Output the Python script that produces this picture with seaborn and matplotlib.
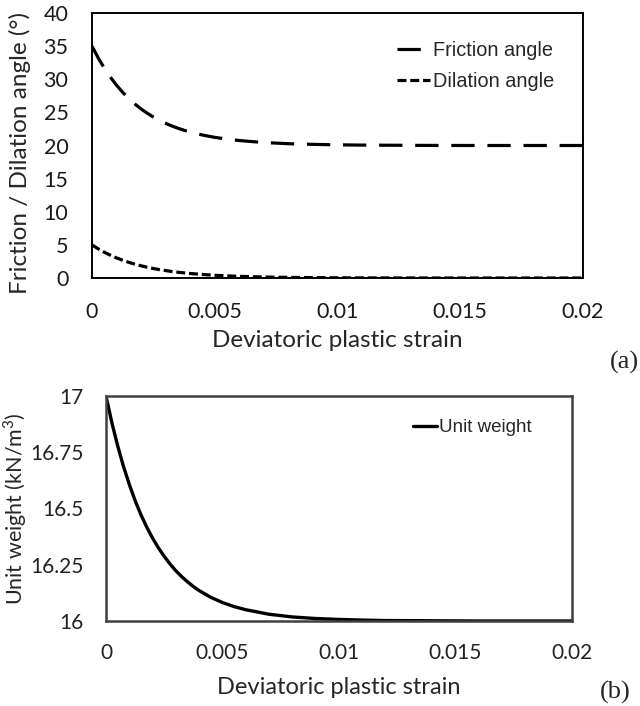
import numpy as np
import pandas as pd
import matplotlib
matplotlib.use("Agg")
import matplotlib.pyplot as plt
import seaborn as sns
from matplotlib.lines import Line2D

# ---------------- data ----------------
strain = [0, 0.00025, 0.0005, 0.00075, 0.001, 0.00125, 0.0015, 0.00175, 0.002,
          0.00225, 0.0025, 0.00275, 0.003, 0.00325, 0.0035, 0.00375, 0.004,
          0.0045, 0.005, 0.0055, 0.006, 0.007, 0.008, 0.009, 0.010, 0.011,
          0.012, 0.014, 0.016, 0.018, 0.020]
friction = [35.0, 33.24, 31.68, 30.31, 29.10, 28.03, 27.09, 26.25, 25.52,
            24.87, 24.30, 23.79, 23.35, 22.95, 22.61, 22.30, 22.03,
            21.58, 21.23, 20.96, 20.75, 20.45, 20.27, 20.17, 20.10, 20.06,
            20.04, 20.01, 20.0, 20.0, 20.0]
dilation = [5.0, 4.41, 3.89, 3.44, 3.03, 2.68, 2.36, 2.08, 1.84,
            1.62, 1.43, 1.26, 1.12, 0.98, 0.87, 0.77, 0.68,
            0.53, 0.41, 0.32, 0.25, 0.15, 0.09, 0.06, 0.03, 0.02,
            0.01, 0.0, 0.0, 0.0, 0.0]
unit_weight = [17.0, 16.882, 16.779, 16.687, 16.607, 16.535, 16.472, 16.417, 16.368,
               16.325, 16.287, 16.253, 16.223, 16.197, 16.174, 16.153, 16.135,
               16.105, 16.082, 16.064, 16.050, 16.030, 16.018, 16.011, 16.007, 16.004,
               16.002, 16.001, 16.0, 16.0, 16.0]

series_names = ["Friction angle", "Dilation angle"]
x_ticks = [0, 0.005, 0.01, 0.015, 0.02]
x_ticklabels = ["0", "0.005", "0.01", "0.015", "0.02"]
angle_ticks = [0, 5, 10, 15, 20, 25, 30, 35, 40]
uw_ticks = [16, 16.25, 16.5, 16.75, 17]
uw_ticklabels = ["16", "16.25", "16.5", "16.75", "17"]

# ---------------- styling ----------------
sns.set_theme(style="white")
plt.rcParams["font.family"] = ["Lato", "DejaVu Sans"]
plt.rcParams["mathtext.fontset"] = "custom"
plt.rcParams["mathtext.rm"] = "Lato"

fig = plt.figure(figsize=(6.4, 7.06), dpi=100)
ax1 = fig.add_axes([92/640, 1-278/706, (583-92)/640, (278-13)/706])
ax2 = fig.add_axes([106/640, 1-621/706, (572-106)/640, (621-396)/706])

# ---------------- panel (a) ----------------
df_a = pd.DataFrame({
    "strain": strain * 2,
    "angle": friction + dilation,
    "series": [series_names[0]] * len(strain) + [series_names[1]] * len(strain),
})
dash_map = {series_names[0]: (7.3, 4.0), series_names[1]: (2.8, 1.2)}
sns.lineplot(data=df_a, x="strain", y="angle", hue="series", style="series",
             palette=["black", "black"], dashes=dash_map, linewidth=2.3,
             legend=False, ax=ax1)

ax1.set_xlim(0, 0.02)
ax1.set_ylim(0, 40)
ax1.set_xticks(x_ticks)
ax1.set_xticklabels(x_ticklabels)
ax1.set_yticks(angle_ticks)
ax1.set_xlabel("Deviatoric plastic strain", fontsize=17.5, labelpad=6)
ax1.set_ylabel("Friction / Dilation angle (°)", fontsize=17.5)
ax1.yaxis.set_label_coords((31-92)/491, 0.47)
ax1.tick_params(axis="both", direction="in", length=4, width=1.2,
                color="black", labelsize=15.5, pad=17, labelcolor="#1a1a1a")
for sp in ax1.spines.values():
    sp.set_color("black")
    sp.set_linewidth(1.4)

handles_a = [
    Line2D([0], [0], color="black", lw=2.3, dashes=dash_map[series_names[0]]),
    Line2D([0], [0], color="black", lw=2.3, dashes=dash_map[series_names[1]]),
]
ax1.legend(handles_a, series_names, loc="upper left",
           bbox_to_anchor=((397-92)/491, (278-41)/265), frameon=False,
           prop={"family": "Liberation Sans", "size": 14.3},
           handlelength=1.65, handletextpad=0.15, labelspacing=0.6,
           borderpad=0, borderaxespad=0)

# ---------------- panel (b) ----------------
df_b = pd.DataFrame({"strain": strain, "uw": unit_weight})
sns.lineplot(data=df_b, x="strain", y="uw", color="black", linewidth=2.4,
             legend=False, ax=ax2)
ax2.set_xlim(0, 0.02)
ax2.set_ylim(16, 17)
ax2.set_xticks(x_ticks)
ax2.set_xticklabels(x_ticklabels)
ax2.set_yticks(uw_ticks)
ax2.set_yticklabels(uw_ticklabels)
ax2.set_xlabel("Deviatoric plastic strain", fontsize=17, labelpad=10)
ax2.set_ylabel("Unit weight (kN/m$^{3}$)", fontsize=15.5)
ax2.yaxis.set_label_coords((29-106)/466, 0.5)
ax2.tick_params(axis="both", direction="in", length=5, width=1.4,
                color="#404040", labelsize=15, pad=16, labelcolor="#222222")
for sp in ax2.spines.values():
    sp.set_color("#404040")
    sp.set_linewidth(1.8)

handles_b = [Line2D([0], [0], color="black", lw=2.4)]
ax2.legend(handles_b, ["Unit weight"], loc="upper left",
           bbox_to_anchor=((413-106)/466, (621-419)/225), frameon=False,
           prop={"family": "Liberation Sans", "size": 13.5},
           handlelength=1.3, handletextpad=0.1, borderpad=0, borderaxespad=0)

# ---------------- panel tags ----------------
fig.text(639/640, 1-362/706, "(a)", ha="right", va="center",
         family="Liberation Serif", fontsize=19)
fig.text(631/640, 1-692/706, "(b)", ha="right", va="center",
         family="Liberation Serif", fontsize=19)

fig.savefig("out.png", dpi=100, facecolor="white")
